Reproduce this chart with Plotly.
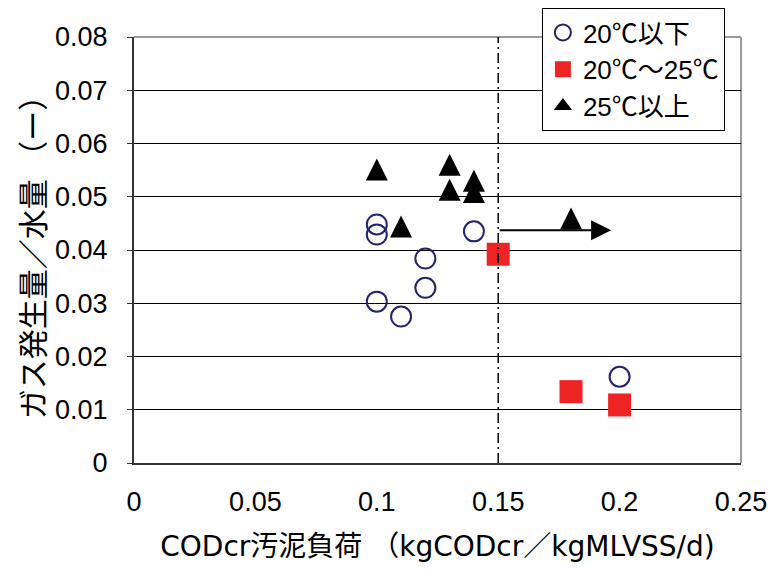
import plotly.graph_objects as go

# Sludge loading (kgCODcr/kgMLVSS/d) vs. gas production / water volume
low_x = [0.10, 0.10, 0.10, 0.11, 0.12, 0.12, 0.14, 0.20]
low_y = [0.0448, 0.0429, 0.0303, 0.0275, 0.0384, 0.0329, 0.0435, 0.0162]

mid_x = [0.15, 0.18, 0.20]
mid_y = [0.0392, 0.0134, 0.0109]

high_x = [0.10, 0.13, 0.13, 0.14, 0.14, 0.11, 0.18]
high_y = [0.0551, 0.0560, 0.0513, 0.0530, 0.0509, 0.0444, 0.0459]

series_names = ["20℃以下", "20℃～25℃", "25℃以上"]

x_ticks = [0, 0.05, 0.1, 0.15, 0.2, 0.25]
y_ticks = [0, 0.01, 0.02, 0.03, 0.04, 0.05, 0.06, 0.07, 0.08]

# reference load line and the arrow pointing to higher loads
ref_load = 0.15
arrow_from = (0.15, 0.0437)
arrow_to = (0.1965, 0.0437)

latin = "Liberation Sans, Arial, Noto Sans CJK JP"
cjk = "Liberation Sans, Noto Sans CJK JP"
title_font = "DejaVu Sans, Noto Sans CJK JP"

fig = go.Figure()

fig.add_trace(go.Scatter(
    x=low_x, y=low_y, mode="markers", name=series_names[0],
    marker=dict(symbol="circle-open", size=20, color="#23236e",
                line=dict(width=2, color="#23236e")),
))
fig.add_trace(go.Scatter(
    x=mid_x, y=mid_y, mode="markers", name=series_names[1],
    marker=dict(symbol="square", size=23, color="#ee2424",
                line=dict(width=0)),
))
# upright, evenly proportioned triangles centred on each point
fig.add_trace(go.Scatter(
    x=high_x, y=high_y, mode="markers", name=series_names[2],
    showlegend=False,
    marker=dict(symbol="arrow-down", angle=180, standoff=11, size=22,
                color="#000000", line=dict(width=0)),
))
# legend entry for the triangle series
fig.add_trace(go.Scatter(
    x=[None], y=[None], mode="markers", name=series_names[2],
    marker=dict(symbol="triangle-up", size=16, color="#000000",
                line=dict(width=0)),
))

# dash-dot vertical line at the reference load
fig.add_shape(type="line", xref="x", yref="paper",
              x0=ref_load, x1=ref_load, y0=0, y1=1,
              line=dict(color="#000000", width=1.5, dash="10px,4px,2px,4px"))

# grey frame on the top and right sides
fig.add_shape(type="line", xref="paper", yref="paper", x0=0, x1=1, y0=1, y1=1,
              line=dict(color="#9a9a9a", width=2), layer="below")
fig.add_shape(type="line", xref="paper", yref="paper", x0=1, x1=1, y0=0, y1=1,
              line=dict(color="#9a9a9a", width=2), layer="below")

fig.add_annotation(
    x=arrow_to[0], y=arrow_to[1], ax=arrow_from[0], ay=arrow_from[1],
    xref="x", yref="y", axref="x", ayref="y",
    text="", showarrow=True, arrowhead=2, arrowsize=2, arrowwidth=2,
    arrowcolor="#000000",
)

fig.update_layout(
    width=773, height=572,
    margin=dict(l=134, r=32, t=37, b=109, autoexpand=False),
    paper_bgcolor="white", plot_bgcolor="white",
    showlegend=True,
    legend=dict(
        x=0.672, y=1.068, xanchor="left", yanchor="top",
        bgcolor="white", bordercolor="#000000", borderwidth=1,
        font=dict(family=cjk, size=26, color="#000000"),
        tracegroupgap=0, traceorder="normal",
    ),
    xaxis=dict(
        range=[0, 0.25], tickvals=x_ticks, ticktext=[str(v) for v in x_ticks],
        showgrid=False, zeroline=False,
        showline=True, linecolor="#333333", linewidth=2,
        ticks="", ticklabelstandoff=14,
        tickfont=dict(family=latin, size=27, color="#000000"),
        title=dict(text="CODcr汚泥負荷 （kgCODcr／kgMLVSS/d)",
                   font=dict(family=title_font, size=28, color="#000000"),
                   standoff=20),
    ),
    yaxis=dict(
        range=[0, 0.08], tickvals=y_ticks, ticktext=[str(v) for v in y_ticks],
        showgrid=True, gridcolor="#000000", gridwidth=1,
        zeroline=False,
        showline=True, linecolor="#333333", linewidth=2,
        ticks="outside", ticklen=5, tickcolor="#333333",
        ticklabelstandoff=14,
        tickfont=dict(family=latin, size=27, color="#000000"),
        title=dict(text="ガス発生量／水量 （ー）",
                   font=dict(family=cjk, size=30, color="#000000"),
                   standoff=2),
    ),
)

fig.write_html("out.html")
